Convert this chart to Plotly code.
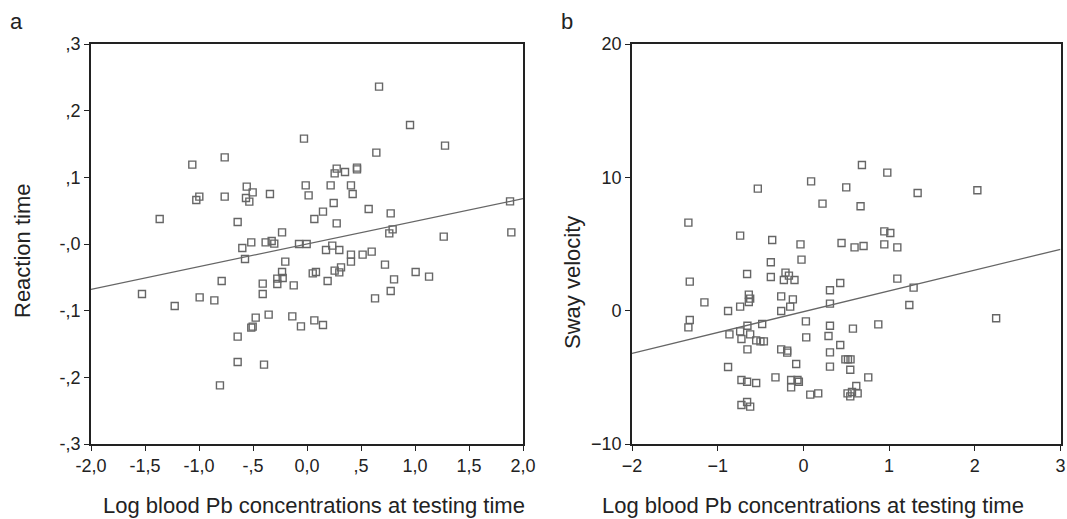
import plotly.graph_objects as go

# panel a: reaction time vs log blood Pb
xa = [-0.028, -0.762, -1.062, -0.558, -0.503, -0.012, 0.015, -0.343, -0.762, -0.997,
      -1.025, -0.565, -0.534, -1.364, -0.642, 0.068, -0.231, -0.516, -0.599, -0.383,
      -0.327, -0.303, -0.074, -0.003, 0.667, 0.954, 1.278, 0.642, 0.275, 0.256,
      0.352, 0.463, 0.463, 0.219, 0.407, 0.423, 0.247, 0.148, 0.275, 0.571,
      0.775, 0.793, 0.762, 1.266, 1.88, 1.892, -0.574, -0.201, -0.231, -0.275,
      -0.225, -0.275, -0.123, -0.41, -0.41, -0.79, -1.528, -1.225, -0.994, -0.858,
      0.053, 0.083, -0.475, -0.355, -0.516, -0.503, -0.136, -0.056, 0.068, -0.642,
      -0.642, -0.398, -0.806, 0.176, 0.234, 0.299, 0.407, 0.407, 0.515, 0.599,
      0.722, 0.191, 0.256, 0.299, 0.315, 0.806, 0.775, 0.63, 1.006, 1.13, 0.148]
ya = [0.158, 0.130, 0.119, 0.086, 0.0775, 0.088, 0.073, 0.075, 0.071, 0.071,
      0.066, 0.069, 0.0635, 0.0375, 0.033, 0.0375, 0.0175, 0.0025, -0.006, 0.0025,
      0.0045, 0.0005, 0.0, 0.0, 0.236, 0.1785, 0.1475, 0.137, 0.113, 0.106,
      0.108, 0.1145, 0.112, 0.088, 0.088, 0.075, 0.0615, 0.0485, 0.031, 0.0525,
      0.046, 0.022, 0.016, 0.011, 0.064, 0.0175, -0.0225, -0.0265, -0.042, -0.052,
      -0.051, -0.06, -0.062, -0.0595, -0.075, -0.0555, -0.075, -0.093, -0.08, -0.0845,
      -0.044, -0.042, -0.1105, -0.106, -0.1255, -0.124, -0.1085, -0.1235, -0.1145, -0.139,
      -0.177, -0.181, -0.212, -0.009, -0.0025, -0.009, -0.016, -0.0265, -0.016, -0.0115,
      -0.031, -0.0555, -0.04, -0.0425, -0.035, -0.053, -0.0705, -0.0815, -0.042, -0.049, -0.1215]
fit_xa = [-2.0, 2.0]
fit_ya = [-0.068, 0.068]

# panel b: sway velocity vs log blood Pb
xb = [-1.342, -0.532, -0.738, -0.364, -0.034, 0.09, 0.683, 0.979, 0.5, 1.333,
      2.03, 0.223, 0.667, 0.944, 1.014, 0.445, 0.597, 0.702, 0.944, 1.096,
      -0.022, -0.38, -0.38, -0.657, -0.209, -0.169, -0.228, -0.104, -1.326, -1.155,
      -0.637, -0.621, -0.637, -0.259, -0.123, -0.154, -0.259, -0.879, -0.738, -1.326,
      -1.342, -0.653, -0.481, -0.738, -0.863, -0.723, -0.621, -0.551, -0.501, -0.461,
      0.029, 0.033, -0.653, -0.259, -0.189, -0.189, -0.879, -0.326, -0.084, -0.723,
      -0.657, -0.551, -0.143, -0.069, -0.053, -0.143, 0.08, -0.723, -0.657, -0.621,
      0.43, 0.31, 0.31, 1.096, 1.286, 1.236, 2.249, 0.31, 0.578, 0.874,
      0.293, 0.43, 0.31, 0.49, 0.52, 0.55, 0.547, 0.31, 0.757, 0.617,
      0.173, 0.515, 0.547, 0.567, 0.633]
yb = [6.6, 9.15, 5.63, 5.3, 4.97, 9.7, 10.93, 10.35, 9.25, 8.83,
      9.03, 8.03, 7.83, 5.95, 5.83, 5.08, 4.75, 4.85, 4.97, 4.75,
      3.83, 3.63, 2.53, 2.75, 2.85, 2.63, 2.3, 2.3, 2.18, 0.62,
      1.2, 0.9, 0.65, 1.07, 0.85, 0.3, -0.02, -0.02, 0.3, -0.7,
      -1.25, -1.13, -1.0, -1.55, -1.78, -2.13, -1.78, -2.23, -2.3, -2.3,
      -0.8, -2.0, -2.9, -2.9, -3.0, -3.15, -4.22, -5.0, -4.0, -5.2,
      -5.33, -5.42, -5.2, -5.2, -5.33, -5.75, -6.3, -7.07, -6.85, -7.2,
      2.08, 1.53, 0.53, 2.4, 1.73, 0.43, -0.57, -1.13, -1.35, -1.03,
      -1.9, -2.58, -3.13, -3.65, -3.65, -3.65, -4.43, -4.2, -5.0, -5.65,
      -6.2, -6.2, -6.43, -6.1, -6.2]
fit_xb = [-2.0, 3.0]
fit_yb = [-3.2, 4.6]

xa_ticks = [-2.0, -1.5, -1.0, -0.5, 0.0, 0.5, 1.0, 1.5, 2.0]
xa_labels = ["-2,0", "-1,5", "-1,0", "-,5", "0,0", ",5", "1,0", "1,5", "2,0"]
ya_ticks = [-0.3, -0.2, -0.1, 0.0, 0.1, 0.2, 0.3]
ya_labels = ["-,3", "-,2", "-,1", "-,0", ",1", ",2", ",3"]
xb_ticks = [-2, -1, 0, 1, 2, 3]
yb_ticks = [-10, 0, 10, 20]

FONT = "Liberation Sans, Arial, sans-serif"
MARK = "#666666"
LINE = "#666666"
AXC = "#222222"

marker = dict(symbol="square-open", size=7, color=MARK, line=dict(width=1.4, color=MARK))

fig = go.Figure()
fig.add_trace(go.Scatter(x=xa, y=ya, mode="markers", marker=marker, xaxis="x", yaxis="y"))
fig.add_trace(go.Scatter(x=fit_xa, y=fit_ya, mode="lines", line=dict(color=LINE, width=1.3),
                         xaxis="x", yaxis="y"))
fig.add_trace(go.Scatter(x=xb, y=yb, mode="markers", marker=marker, xaxis="x2", yaxis="y2"))
fig.add_trace(go.Scatter(x=fit_xb, y=fit_yb, mode="lines", line=dict(color=LINE, width=1.3),
                         xaxis="x2", yaxis="y2"))

W, H = 1067, 519


def px(x):
    return x / W


def py(y):
    return 1 - y / H


ydom = [py(444), py(44)]
axis_common = dict(showgrid=False, zeroline=False, showline=True, linecolor=AXC, linewidth=1.6,
                   mirror=True, ticks="outside", ticklen=5, tickwidth=1.2, tickcolor=AXC,
                   automargin=False, ticklabeloverflow="allow",
                   tickfont=dict(family=FONT, size=18, color="#222222"))

fig.update_layout(
    width=W, height=H, showlegend=False, template="none",
    paper_bgcolor="white", plot_bgcolor="white",
    margin=dict(l=0, r=0, t=0, b=0, pad=0),
    xaxis=dict(domain=[px(91), px(523)], range=[-2, 2], tickvals=xa_ticks, ticktext=xa_labels,
               anchor="y", **axis_common),
    yaxis=dict(domain=ydom, range=[-0.3, 0.3], tickvals=ya_ticks, ticktext=ya_labels,
               anchor="x", **axis_common),
    xaxis2=dict(domain=[px(632), px(1060.5)], range=[-2, 3], tickvals=xb_ticks,
                anchor="y2", **axis_common),
    yaxis2=dict(domain=ydom, range=[-10, 20], tickvals=yb_ticks, anchor="x2", **axis_common),
)

title_font = dict(family=FONT, size=22, color="#222222")
xtitle = "Log blood Pb concentrations at testing time"
ann = dict(xref="paper", yref="paper", showarrow=False, xanchor="center", yanchor="middle")
fig.add_annotation(text=xtitle, x=px(314), y=py(505), font=title_font, **ann)
fig.add_annotation(text=xtitle, x=px(813), y=py(505), font=title_font, **ann)
fig.add_annotation(text="Reaction time", x=px(23), y=py(251), textangle=-90,
                   font=title_font, **ann)
fig.add_annotation(text="Sway velocity", x=px(572), y=py(283), textangle=-90,
                   font=title_font, **ann)
fig.add_annotation(text="a", x=px(16), y=py(22), font=dict(family=FONT, size=22, color="#222222"), **ann)
fig.add_annotation(text="b", x=px(567), y=py(21), font=dict(family=FONT, size=22, color="#222222"), **ann)

# drop the default page margin so the figure sits at the window's corner
fig.write_html("out.html", config={"displayModeBar": False},
               post_script="document.body.style.margin = '0px';")
